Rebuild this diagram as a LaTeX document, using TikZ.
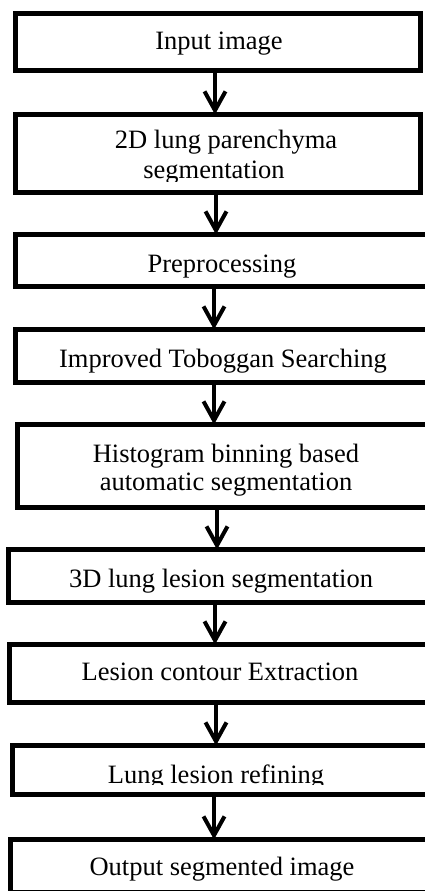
\documentclass[tikz,border=0pt]{standalone}
\usepackage{fontspec}
\setmainfont{Liberation Serif}
\usetikzlibrary{arrows.meta}
\begin{document}
\begin{tikzpicture}[x=1pt,y=-1pt,
  box/.style={draw, line width=5pt, inner sep=0pt, rectangle},
  txt/.style={anchor=base, inner sep=0pt, font=\fontsize{26.5}{29}\selectfont},
  arr/.style={line width=4pt, shorten >=-2.5pt, -{Straight Barb[length=19pt,width=21pt]}}]
\useasboundingbox (0,0) rectangle (425,891);
\clip (0,0) rectangle (425,891);
% boxes (outer edges measured from the reference)
\node[box, minimum width=405pt, minimum height=57pt] (b1) at (218,42) {};
\node[box, minimum width=405pt, minimum height=78pt] (b2) at (218,153.5) {};
\node[box, minimum width=422pt, minimum height=52pt] (b3) at (226.5,260.5) {};
\node[box, minimum width=422pt, minimum height=53pt] (b4) at (226.5,356) {};
\node[box, minimum width=420pt, minimum height=83pt] (b5) at (227.5,466) {};
\node[box, minimum width=429pt, minimum height=53pt] (b6) at (223,576) {};
\node[box, minimum width=428pt, minimum height=58pt] (b7) at (223.5,673.5) {};
\node[box, minimum width=425pt, minimum height=49pt] (b8) at (225,770) {};
\node[box, minimum width=427pt, minimum height=53pt] (b9) at (224,866) {};
% texts
\node[txt] (t1) at (219,50) {Input image};
\node[txt] (t2a) at (226,148) {2D lung parenchyma};
\begin{scope}
  \clip (0,100) rectangle (425,181.5);
  \node[txt] (t2b) at (214,178) {segmentation};
\end{scope}
\node[txt] (t3) at (222,272) {Preprocessing};
\node[txt] (t4) at (223,367) {Improved Toboggan Searching};
\node[txt] (t5a) at (226,462) {Histogram binning based};
\node[txt] (t5b) at (226,490) {automatic segmentation};
\node[txt] (t6) at (221,587) {3D lung lesion segmentation};
\node[txt] (t7) at (220,680) {Lesion contour Extraction};
\begin{scope}
  \clip (0,740) rectangle (425,784.5);
  \node[txt] (t8) at (216,783) {Lung lesion refining};
\end{scope}
\node[txt] (t9) at (222,875) {Output segmented image};
% arrow columns
\coordinate (x1) at (215,0);
\coordinate (x2) at (216,0);
\coordinate (x3) at (214,0);
\coordinate (x4) at (214,0);
\coordinate (x5) at (217,0);
\coordinate (x6) at (215,0);
\coordinate (x7) at (216,0);
\coordinate (x8) at (214,0);
\draw[arr] (b1.south -| x1) -- (b2.north -| x1);
\draw[arr] (b2.south -| x2) -- (b3.north -| x2);
\draw[arr] (b3.south -| x3) -- (b4.north -| x3);
\draw[arr] (b4.south -| x4) -- (b5.north -| x4);
\draw[arr] (b5.south -| x5) -- (b6.north -| x5);
\draw[arr] (b6.south -| x6) -- (b7.north -| x6);
\draw[arr] (b7.south -| x7) -- (b8.north -| x7);
\draw[arr] (b8.south -| x8) -- (b9.north -| x8);
\end{tikzpicture}
\end{document}
